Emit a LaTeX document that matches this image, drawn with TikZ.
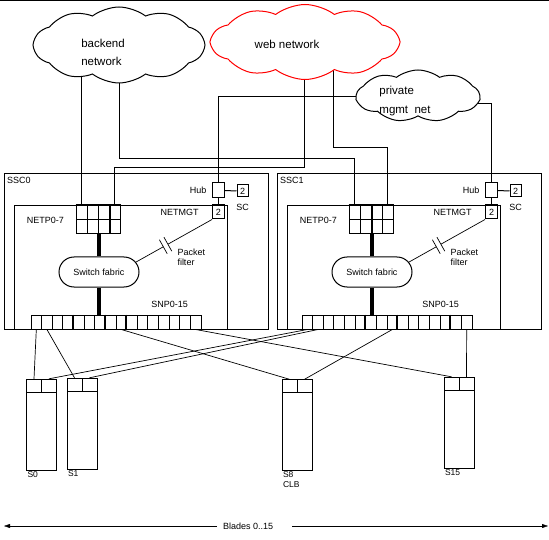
\documentclass[tikz,border=0pt]{standalone}
\usepackage{fontspec}
\setmainfont{Liberation Sans}
\usetikzlibrary{positioning,shapes.symbols,shapes.misc,calc,backgrounds,arrows.meta}

\begin{document}
\begin{tikzpicture}[x=1pt,y=-1pt,line width=1pt,
  lbl/.style={font=\fontsize{9}{10}\selectfont, inner sep=1pt},
  box/.style={draw, inner sep=0pt},
  cell/.style={draw, inner sep=0pt, minimum width=11pt, minimum height=14pt},
  snpcell/.style={draw, inner sep=0pt, minimum width=10.625pt, minimum height=14pt},
  net/.style={cloud, draw, fill=white, cloud puffs=10, cloud puff arc=75,
    cloud ignores aspect, inner sep=0pt},
  cloudtxt/.style={font=\fontsize{11.5}{18}\selectfont, align=left, inner sep=0pt},
  thickln/.style={line width=3.5pt},
  divln/.style={line width=2pt},
  link/.style={line width=0.7pt},
  tip/.style={-{Triangle[length=6pt,width=4pt]}}]
  \useasboundingbox (0,0) rectangle (549,540);

  % Borde superior
  \draw (0,0.5) -- (549,0.5);

  % Nubes de red
  \node[net, minimum width=170pt, minimum height=76pt] (backend) at (119,45) {};
  \node[net, draw=red, minimum width=187pt, minimum height=75pt] (web) at (305,42) {};
  \node[net, cloud puffs=9, minimum width=123pt, minimum height=52pt] (private) at (418,96) {};
  \node[cloudtxt] (backendTxt) at (103,52) {backend\\network};
  \node[cloudtxt] (webTxt) at (287,44) {web network};
  \node[cloudtxt, font=\fontsize{11.5}{19}\selectfont] (privateTxt) at (405,101) {private\\mgmt\ \ net};

  % Tarjetas SSC0 y SSC1
  \foreach \s/\dx/\sx/\nm/\kn/\ka/\kb/\kc in {A/0/31/SSC0/3/4/7/9, B/273/302/SSC1/2/6/9/14}{
    \node[box, minimum width=264pt, minimum height=155pt] (ssc\s) at (136+\dx,251.5) {};
    \node[box, minimum width=213pt, minimum height=123pt] (in\s) at (120.5+\dx,267.5) {};
    \node[lbl, anchor=north west] (ssc\s-lbl) at ([xshift=2pt,yshift=-2pt]ssc\s.north west) {\nm};

    % Puertos NETP0-7
    \foreach \i in {1,...,4}{
      \node[cell] (net\s-\i) at (70.5+11*\i+\dx,213) {};
      \node[cell] (net\s-b\i) at (70.5+11*\i+\dx,227) {};
    }
    \draw[divln] (net\s-\kn.north east) -- (net\s-b\kn.south east);
    \draw[divln] (net\s-1.north west) -- (net\s-4.north east);
    \node[lbl, left=10pt of net\s-1.south west] (netp\s) {NETP0-7};

    % Switch fabric
    \node[draw, rounded rectangle, lbl, minimum width=82pt, minimum height=30pt] (fab\s) at (99+\dx,272) {Switch fabric};

    % Puertos SNP0-15
    \foreach \i in {0,...,15}
      \node[snpcell] (snp\s-\i) at (\sx+10.625*\i+5.3125,322) {};
    \foreach \k in {\ka,\kb,\kc}
      \draw[divln] (snp\s-\k.north west) -- (snp\s-\k.south west);
    \node[lbl, above=5pt of snp\s-12.north east] (snpLbl\s) {SNP0-15};

    \draw[thickln] (fab\s.north) -- (fab\s.north |- net\s-b1.south);
    \draw[thickln] (fab\s.south) -- (fab\s.south |- snp\s-0.north);

    % Hub, SC y NETMGT
    \node[box, minimum width=12pt, minimum height=15pt] (hub\s) at (218.5+\dx,190.5) {};
    \node[lbl, left=4pt of hub\s] (hubLbl\s) {Hub};
    \node[box, lbl, inner sep=0pt, minimum width=11pt, minimum height=12pt] (sc\s) at (242.5+\dx,191) {2};
    \node[lbl, below=5pt of sc\s] (scLbl\s) {SC};
    \node[box, lbl, inner sep=0pt, minimum width=12pt, minimum height=13pt] (mgt\s) at (218.5+\dx,212.5) {2};
    \draw[divln] (mgt\s.north west) -- (mgt\s.north east);
    \node[lbl, left=12pt of mgt\s] (mgtLbl\s) {NETMGT};
    \draw (hub\s) -- (sc\s);
    \draw (hub\s) -- (mgt\s);

    % Packet filter
    \coordinate (pf\s-a) at ($(fab\s.15)!0.36!(mgt\s.south west)$);
    \coordinate (pf\s-b) at ($(fab\s.15)!0.42!(mgt\s.south west)$);
    \draw[link] (fab\s.15) -- (pf\s-a);
    \draw[link] (pf\s-b) -- (mgt\s.south west);
    \draw[link] ($(pf\s-a)!8pt!90:(mgt\s.south west)$) -- ($(pf\s-a)!8pt!-90:(mgt\s.south west)$);
    \draw[link] ($(pf\s-b)!8pt!90:(mgt\s.south west)$) -- ($(pf\s-b)!8pt!-90:(mgt\s.south west)$);
    \node[lbl, align=left, anchor=west] (pfLbl\s) at (176+\dx,257) {Packet\\filter};
  }

  % Enlaces a las nubes
  \begin{pgfonlayer}{background}
    \draw (netA-1.north) -- (netA-1.north |- backend.center);
    \draw (netB-1.north) -- ++(0,-47) -| (backend.center);
    \draw (netA-4.north) -- ++(0,-38) -| ([xshift=-1pt]web.center);
    \draw (netB-4.north) -- ++(0,-58) -| ([xshift=28pt]web.center);
    \draw (hubA.north) |- (private.center);
    \draw (hubB.north) |- ([yshift=-7pt]private.center);
  \end{pgfonlayer}

  % Blades
  \foreach \b/\x/\y/\t in {bzero/41.5/424.5/S0, bone/82/423.5/S1, beight/297/425/{S8\\CLB}, bfift/459/422.5/S15}{
    \node[box, minimum width=30pt, minimum height=91pt] (\b) at (\x,\y) {};
    \node[box, minimum width=15pt, minimum height=13pt, anchor=north west] (\b-l) at (\b.north west) {};
    \node[box, minimum width=15pt, minimum height=13pt, anchor=north east] (\b-r) at (\b.north east) {};
    \node[font=\fontsize{8.5}{10}\selectfont, inner sep=1pt, anchor=north west, align=left] (\b-lbl) at (\b.south west) {\t};
  }

  % Enlaces SNP - blades
  \draw[link] (snpA-0.south) -- (bzero-l.north);
  \draw[link] (snpA-1.south) -- (bone-l.north);
  \draw[link] (snpA-8.south) -- (beight-l.north);
  \draw[link] (snpA-15.south) -- (bfift-l.north);
  \draw[link] (snpB-0.south) -- (bzero-r.north);
  \draw[link] (snpB-1.south) -- (bone-r.north);
  \draw[link] (snpB-8.south) -- (beight-r.north);
  \draw[link] (snpB-15.south) -- (bfift-r.north);

  % Flecha Blades 0..15
  \node[lbl, anchor=west, inner xsep=6pt] (blades) at (217,526) {Blades 0..15};
  \coordinate (leftEnd) at (4,526);
  \coordinate (rightEnd) at (548,526);
  \draw[tip] (blades.west) -- (leftEnd);
  \draw[tip] ([xshift=13pt]blades.east) -- (rightEnd);
\end{tikzpicture}
\end{document}
